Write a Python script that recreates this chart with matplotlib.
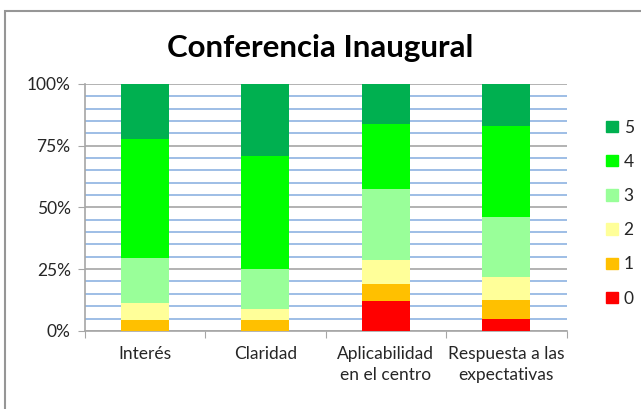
import matplotlib
matplotlib.use("Agg")
import matplotlib.pyplot as plt
from matplotlib.patches import Rectangle, Patch
import numpy as np

plt.rcParams['font.family'] = ['Lato', 'DejaVu Sans']

categories = ['Interés', 'Claridad', 'Aplicabilidad\nen el centro', 'Respuesta a las\nexpectativas']
levels = ['0', '1', '2', '3', '4', '5']
# percentage of answers per level, one list per level
pct_0 = [0.0, 0.0, 12.1, 5.0]
pct_1 = [4.6, 4.6, 6.9, 7.4]
pct_2 = [6.5, 4.3, 9.5, 9.3]
pct_3 = [18.3, 16.2, 29.0, 24.6]
pct_4 = [48.4, 45.6, 26.1, 36.6]
pct_5 = [22.2, 29.3, 16.4, 17.1]
colors = ['#FF0000', '#FFC000', '#FFFF99', '#99FF99', '#00FF00', '#00B050']

series = [pct_0, pct_1, pct_2, pct_3, pct_4, pct_5]

fig = plt.figure(figsize=(6.41, 4.09), dpi=100)
ax = fig.add_axes([0.132, 0.191, 0.752, 0.604])

x = np.arange(len(categories))
bottom = np.zeros(len(categories))
for vals, col, lab in zip(series, colors, levels):
    vals = np.array(vals)
    ax.bar(x, vals, 0.4, bottom=bottom, color=col, label=lab, zorder=3)
    bottom += vals

ax.set_xlim(-0.5, len(categories) - 0.5)
ax.set_ylim(0, 100)
ax.set_yticks([0, 25, 50, 75, 100])
ax.set_yticklabels(['0%', '25%', '50%', '75%', '100%'], fontsize=12.5, color='#262626')
ax.set_yticks(np.arange(0, 101, 5), minor=True)
ax.grid(which='minor', axis='y', color='#8DB3E2', lw=1.2, zorder=1)
ax.grid(which='major', axis='y', color='#A6A6A6', lw=1.2, zorder=2)
ax.tick_params(axis='y', which='major', length=5, color='#A6A6A6', pad=5)
ax.tick_params(axis='y', which='minor', length=0)

ax.set_xticks(np.arange(-0.5, len(categories), 1))
ax.set_xticklabels([])
ax.set_xticks(x, minor=True)
ax.set_xticklabels(categories, minor=True, fontsize=12.5, color='#262626', linespacing=1.35)
ax.tick_params(axis='x', which='major', length=5, color='#A6A6A6')
ax.tick_params(axis='x', which='minor', length=0, pad=11)

for s in ['top', 'right']:
    ax.spines[s].set_visible(False)
for s in ['left', 'bottom']:
    ax.spines[s].set_color('#A6A6A6')
    ax.spines[s].set_linewidth(1.2)

fig.text(0.5, 0.882, 'Conferencia Inaugural', ha='center', va='center',
         fontsize=22.5, fontweight='bold')

handles = [Patch(color=c, label=l) for c, l in zip(colors, levels)][::-1]
fig.legend(handles=handles, loc='center left', bbox_to_anchor=(0.935, 0.479),
           frameon=False, fontsize=12.5, handlelength=0.65, handleheight=0.65,
           labelspacing=1.05, handletextpad=0.35, borderaxespad=0,
           labelcolor='#262626')

fig.patches.append(Rectangle((5 / 641, -0.1), 1.2, 1.1 - 11 / 409, transform=fig.transFigure,
                             fill=False, edgecolor='#969696', lw=1.5))

fig.savefig('out.png', dpi=100)
